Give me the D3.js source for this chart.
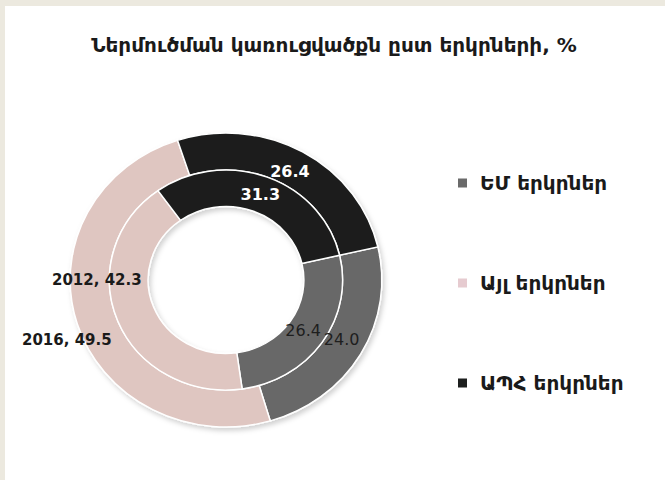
<!DOCTYPE html>
<html>
<head>
<meta charset="utf-8">
<script src="https://cdn.jsdelivr.net/npm/d3@7"></script>
<style>
  html, body { margin: 0; padding: 0; background: #ffffff; }
  svg { display: block; }
</style>
</head>
<body>
<div id="chart"></div>
<script>
// ---- Data ----
const categories = ["ԵՄ երկրներ", "Այլ երկրներ", "ԱՊՀ երկրներ"];
const years = ["2012", "2016"];
const values2012 = [26.4, 42.3, 31.3];   // inner ring
const values2016 = [24.0, 49.5, 26.4];   // outer ring
const colors = ["#676767", "#dfc6c1", "#1d1f1e"];
const legendColors = ["#6a6a6a", "#e6cbd0", "#1d1f1e"];
const title = "Ներմուծման կառուցվածքն ըստ երկրների, %";

// ---- Layout ----
const W = 665, H = 480;
const cx = 226, cy = 280, sx = 1.06;
const rHole = 73.5, rMid = 110, rOuter = 147;
const startDeg = 77;

const svg = d3.select("#chart").append("svg")
  .attr("width", W).attr("height", H);

// frame (beige strip on top and left)
svg.append("rect").attr("x", 0).attr("y", 0).attr("width", W).attr("height", H).attr("fill", "#ffffff");
svg.append("rect").attr("x", 0).attr("y", 0).attr("width", W).attr("height", 6).attr("fill", "#ece9df");
svg.append("rect").attr("x", 0).attr("y", 0).attr("width", 5).attr("height", H).attr("fill", "#ece9df");

const defs = svg.append("defs");
const f = defs.append("filter").attr("id", "sh").attr("x", "-20%").attr("y", "-20%").attr("width", "140%").attr("height", "140%");
f.append("feDropShadow").attr("dx", 2).attr("dy", 3).attr("stdDeviation", 2.5)
  .attr("flood-color", "#000").attr("flood-opacity", 0.18);

// title
svg.append("text")
  .attr("x", 334).attr("y", 52)
  .attr("text-anchor", "middle")
  .attr("font-family", "DejaVu Sans")
  .attr("font-weight", "bold")
  .attr("font-size", 20)
  .attr("fill", "#1a1a1a")
  .text(title);

const pie = d3.pie().sort(null).value(d => d)
  .startAngle(startDeg * Math.PI / 180)
  .endAngle((startDeg + 360) * Math.PI / 180);

const innerArcs = pie(values2012);
const outerArcs = pie(values2016);

const arcInner = d3.arc().innerRadius(rHole).outerRadius(rMid);
const arcOuter = d3.arc().innerRadius(rMid).outerRadius(rOuter);

const g = svg.append("g")
  .attr("transform", `translate(${cx},${cy}) scale(${sx},1)`)
  .attr("filter", "url(#sh)");

g.selectAll("path.outer").data(outerArcs).join("path")
  .attr("class", "outer")
  .attr("d", arcOuter)
  .attr("fill", (d, i) => colors[i])
  .attr("stroke", "#ffffff").attr("stroke-width", 1.4);

g.selectAll("path.inner").data(innerArcs).join("path")
  .attr("class", "inner")
  .attr("d", arcInner)
  .attr("fill", (d, i) => colors[i])
  .attr("stroke", "#ffffff").attr("stroke-width", 1.4);

function pos(arcGen, d) {
  const c = arcGen.centroid(d);
  return [cx + c[0] * sx, cy + c[1]];
}

// labels for EU and CIS (on the rings)
const labelStyle = [
  { fill: "#1e1e1e", weight: "normal", size: 16 },
  null,
  { fill: "#ffffff", weight: "bold", size: 16 }
];
[0, 2].forEach(i => {
  const st = labelStyle[i];
  const pI = pos(arcInner, innerArcs[i]);
  const pO = pos(arcOuter, outerArcs[i]);
  const offI = i === 0 ? [-3, -1] : [0, 0];
  const offO = i === 0 ? [-2, -5] : [-3, 3];
  svg.append("text")
    .attr("x", pI[0] + offI[0]).attr("y", pI[1] + offI[1])
    .attr("text-anchor", "middle").attr("dominant-baseline", "central")
    .attr("font-family", "DejaVu Sans").attr("font-weight", st.weight)
    .attr("font-size", st.size).attr("fill", st.fill)
    .text(d3.format(".1f")(values2012[i]));
  svg.append("text")
    .attr("x", pO[0] + offO[0]).attr("y", pO[1] + offO[1])
    .attr("text-anchor", "middle").attr("dominant-baseline", "central")
    .attr("font-family", "DejaVu Sans").attr("font-weight", st.weight)
    .attr("font-size", st.size).attr("fill", st.fill)
    .text(d3.format(".1f")(values2016[i]));
});

// labels for "other" (moved outside to the left)
svg.append("text")
  .attr("x", 52).attr("y", 280)
  .attr("dominant-baseline", "central")
  .attr("font-family", "DejaVu Sans").attr("font-weight", "bold")
  .attr("font-size", 15).attr("fill", "#1a1a1a")
  .text(`${years[0]}, ${d3.format(".1f")(values2012[1])}`);
svg.append("text")
  .attr("x", 22).attr("y", 340)
  .attr("dominant-baseline", "central")
  .attr("font-family", "DejaVu Sans").attr("font-weight", "bold")
  .attr("font-size", 15).attr("fill", "#1a1a1a")
  .text(`${years[1]}, ${d3.format(".1f")(values2016[1])}`);

// legend
const ly = d3.scalePoint().domain(categories).range([183, 383]);
const lg = svg.append("g");
categories.forEach((c, i) => {
  lg.append("rect")
    .attr("x", 458).attr("y", ly(c) - 4.5).attr("width", 9).attr("height", 9)
    .attr("fill", legendColors[i]);
  lg.append("text")
    .attr("x", 480).attr("y", ly(c))
    .attr("dominant-baseline", "central")
    .attr("font-family", "DejaVu Sans")
    .attr("font-weight", "bold")
    .attr("font-size", 20).attr("fill", "#1a1a1a")
    .text(c);
});
</script>
</body>
</html>
